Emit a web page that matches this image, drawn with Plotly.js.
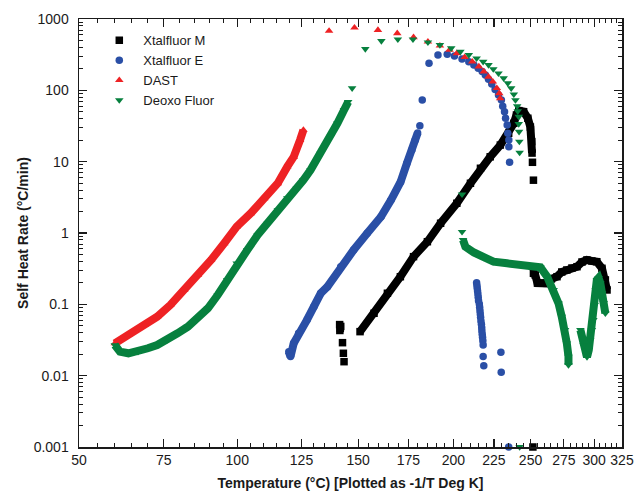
<!DOCTYPE html>
<html>
<head>
<meta charset="utf-8">
<script src="https://cdn.plot.ly/plotly-3.0.1.min.js"></script>
<style>
  html, body { margin: 0; padding: 0; background: #fff; }
  #chart { width: 635px; height: 494px; }
</style>
</head>
<body>
<div id="chart"></div>
<script>
// Temperatures in deg C, self heat rates in deg C/min.

// Xtalfluor M
const xtalMRampT = [150.9, 157.6, 164.2, 170.8, 177.7, 185.2, 192.6, 202.0, 210.2, 216.4, 222.6, 229.2, 234.8, 238.3, 240.1, 241.7, 245.1, 248.1, 249.9, 250.9, 251.1];
const xtalMRampR = [0.0414, 0.0749, 0.143, 0.244, 0.466, 0.755, 1.37, 2.61, 4.98, 8.08, 11.7, 17.1, 25.0, 34.5, 45.1, 51.9, 50.2, 40.6, 30.6, 19.1, 13.2];
const xtalMTailT = [252.1, 253.4, 255.0, 257.2, 262.2, 265.4, 269.7, 273.4, 277.4, 281.5, 285.6, 289.7, 293.8, 298.0, 302.3, 306.8, 309.8, 311.3];
const xtalMTailR = [0.272, 0.258, 0.199, 0.199, 0.197, 0.227, 0.244, 0.284, 0.303, 0.323, 0.337, 0.392, 0.419, 0.405, 0.396, 0.320, 0.220, 0.159];
const xtalMLoneT = [141.5, 141.8, 142.0, 141.6, 142.8, 143.2, 143.5, 251.4, 252.1, 251.7];
const xtalMLoneR = [0.052, 0.046, 0.049, 0.043, 0.029, 0.0206, 0.0157, 9.8, 5.5, 0.001];

// Xtalfluor E
const xtalERampT = [119.8, 120.5, 121.8, 123.8, 127.3, 130.2, 133.2, 136.1, 142.0, 147.9, 154.3, 161.0, 166.0, 170.9, 174.2, 176.8, 178.6, 179.9];
const xtalERampR = [0.0217, 0.0185, 0.0284, 0.0393, 0.0604, 0.0927, 0.143, 0.177, 0.337, 0.578, 0.991, 1.69, 2.90, 5.19, 9.5, 14.6, 20.1, 25.2];
const xtalEPeakT = [181.1, 182.4, 186.1, 191.1, 196.4, 200.6, 205.1, 209.2, 212.3, 215.0, 217.5, 219.5, 221.5, 223.6, 225.8, 228.0, 229.9, 230.8, 232.0, 232.7, 233.8, 234.2, 234.9, 234.9, 235.4];
const xtalEPeakR = [32.0, 73, 240, 313, 320, 303, 275, 252, 227, 204, 183, 164, 143, 123, 103, 86, 73, 60, 50, 40.6, 32.7, 25.0, 20.1, 16.2, 9.8];
const xtalEDropT = [214.0, 214.2, 214.4, 214.6, 214.8, 215.0, 215.2, 215.7, 215.9, 216.1, 216.3, 216.5, 216.7, 217.0, 217.2, 217.3, 217.5, 217.7, 217.9, 218.1, 218.1, 218.5];
const xtalEDropR = [0.201, 0.183, 0.168, 0.154, 0.140, 0.126, 0.1125, 0.101, 0.0910, 0.0815, 0.0732, 0.0658, 0.0584, 0.0525, 0.0471, 0.0423, 0.0380, 0.0345, 0.0309, 0.0269, 0.0185, 0.0138];
const xtalELoneT = [229.6, 229.8, 234.8];
const xtalELoneR = [0.0213, 0.0112, 0.001];

// DAST
const dastRampT = [60.1, 64.1, 69.0, 72.9, 77.1, 81.6, 86.2, 90.7, 95.3, 99.8, 105.0, 110.1, 115.4, 119.2, 121.8, 124.4, 125.8];
const dastRampR = [0.0284, 0.0372, 0.0513, 0.0671, 0.098, 0.159, 0.258, 0.419, 0.718, 1.23, 1.89, 3.07, 4.98, 8.5, 11.7, 20.1, 27.8];
const dastPeakT = [136.8, 148.3, 159.5, 169.2, 177.7, 185.5, 192.2, 197.7, 202.0, 206.7, 211.3, 215.4, 218.5, 221.5, 224.3, 226.9, 228.5, 229.1];
const dastPeakR = [679, 756, 701, 631, 554, 481, 423, 368, 331, 291, 252, 215, 183, 155, 132, 107, 91, 77];

// Deoxo Fluor
const deoxoRampT = [60.1, 61.6, 64.1, 67.0, 70.0, 72.9, 76.0, 79.4, 82.8, 86.2, 89.6, 93.0, 96.4, 99.8, 103.7, 107.6, 111.5, 115.4, 119.2, 123.1, 125.8, 128.8, 133.2, 137.6, 140.5, 143.5, 145.4];
const deoxoRampR = [0.0269, 0.0217, 0.0206, 0.0217, 0.0242, 0.0269, 0.0316, 0.0393, 0.0486, 0.0637, 0.0881, 0.135, 0.220, 0.376, 0.578, 0.938, 1.37, 2.10, 3.07, 4.24, 5.54, 7.65, 13.1, 22.4, 34.5, 53, 69];
const deoxoPeakT = [147.2, 153.4, 161.2, 169.5, 177.4, 185.5, 192.2, 198.7, 204.1, 209.2, 214.0, 218.1, 221.5, 224.6, 228.0, 231.4, 234.2, 236.5, 238.3, 239.4, 240.6, 241.0, 241.7, 241.7, 241.9, 242.1, 242.3];
const deoxoPeakR = [107, 380, 492, 520, 520, 472, 432, 389, 348, 313, 281, 252, 227, 199, 173, 148, 126, 107, 88, 73, 60, 51, 42.7, 33.8, 26.3, 19.1, 13.4];
const deoxoTailT = [205.1, 205.7, 207.1, 212.3, 218.5, 224.7, 233.7, 242.8, 249.4, 257.2, 262.2, 267.1, 270.9, 273.4, 276.0, 277.4, 278.7, 278.7];
const deoxoTailR = [1.04, 0.798, 0.643, 0.533, 0.454, 0.396, 0.376, 0.362, 0.337, 0.330, 0.244, 0.159, 0.103, 0.0671, 0.0437, 0.0284, 0.0185, 0.0141];
const deoxoEndT = [288.4, 291.1, 293.9, 295.4, 296.6, 298.0, 299.3, 300.4, 301.3, 302.3, 303.8, 305.3, 306.8, 308.3, 309.8];
const deoxoEndR = [0.0437, 0.0269, 0.0183, 0.0229, 0.0316, 0.0437, 0.0604, 0.098, 0.159, 0.220, 0.234, 0.199, 0.144, 0.1045, 0.0749];
const deoxoLoneT = [205.1, 242.3];
const deoxoLoneR = [3.49, 0.001];

// Axis ticks
const xTickLabels = [50, 75, 100, 125, 150, 175, 200, 225, 250, 275, 300, 325];
const yTickVals = [0.001, 0.01, 0.1, 1, 10, 100, 1000];
const yTickText = ['0.001', '0.01', '0.1', '1', '10', '100', '1000'];

// The abscissa is -1/T with T in kelvin
const toX = t => -1 / (t + 273.15);

const xMinor = [];
for (let t = 50; t <= 325; t += 5) if (t % 25 !== 0) xMinor.push(toX(t));
const yMinor = [];
for (let d = -3; d < 3; d++) for (let m = 2; m <= 9; m++) yMinor.push(m * Math.pow(10, d));

const FONT = 'Liberation Sans, Arial, Helvetica, sans-serif';
const INK = '#1a1a1a';

function joinSegments(segs) {
  const xs = [], ys = [];
  segs.forEach((s, i) => {
    if (i > 0) { xs.push(null); ys.push(null); }
    s[0].forEach((t, j) => { xs.push(toX(t)); ys.push(s[1][j]); });
  });
  return { xs, ys };
}

// Dense runs of readings are drawn as a thick band under the markers
function band(segs, color) {
  const j = joinSegments(segs);
  return {
    x: j.xs, y: j.ys, type: 'scatter', mode: 'lines',
    line: { color: color, width: 8 }, connectgaps: false,
    showlegend: false, hoverinfo: 'skip', cliponaxis: false
  };
}

function dots(name, segs, color, symbol) {
  const xs = [], ys = [];
  segs.forEach(s => s[0].forEach((t, j) => { xs.push(toX(t)); ys.push(s[1][j]); }));
  return {
    x: xs, y: ys, name: name, type: 'scatter', mode: 'markers',
    marker: { color: color, size: 7.5, symbol: symbol, line: { width: 0 } },
    cliponaxis: false
  };
}

const BLACK = '#000000', BLUE = '#2a4fa6', RED = '#ee2224', GREEN = '#07803e';

const traces = [
  band([[xtalMRampT, xtalMRampR], [xtalMTailT, xtalMTailR]], BLACK),
  dots('Xtalfluor M', [[xtalMRampT, xtalMRampR], [xtalMTailT, xtalMTailR], [xtalMLoneT, xtalMLoneR]], BLACK, 'square'),
  band([[xtalERampT, xtalERampR]], BLUE),
  dots('Xtalfluor E', [[xtalERampT, xtalERampR], [xtalEPeakT, xtalEPeakR], [xtalEDropT, xtalEDropR], [xtalELoneT, xtalELoneR]], BLUE, 'circle'),
  band([[dastRampT, dastRampR]], RED),
  dots('DAST', [[dastRampT, dastRampR], [dastPeakT, dastPeakR]], RED, 'triangle-up'),
  band([[deoxoRampT, deoxoRampR], [deoxoTailT.slice(1), deoxoTailR.slice(1)], [deoxoEndT, deoxoEndR]], GREEN),
  dots('Deoxo Fluor', [[deoxoRampT, deoxoRampR], [deoxoPeakT, deoxoPeakR], [deoxoTailT, deoxoTailR], [deoxoEndT, deoxoEndR], [deoxoLoneT, deoxoLoneR]], GREEN, 'triangle-down')
];

const axisCommon = {
  showline: true, linecolor: INK, linewidth: 1.5, mirror: 'ticks',
  ticks: 'inside', ticklen: 8, tickwidth: 1.2, tickcolor: INK,
  showgrid: false, zeroline: false,
  tickfont: { family: FONT, size: 14, color: INK }
};

const layout = {
  width: 635, height: 494,
  margin: { l: 79, r: 13, t: 19, b: 47 },
  paper_bgcolor: '#ffffff', plot_bgcolor: '#ffffff',
  showlegend: true,
  legend: {
    x: 0.03, y: 0.985, xanchor: 'left', yanchor: 'top',
    bgcolor: 'rgba(0,0,0,0)', borderwidth: 0,
    font: { family: FONT, size: 13, color: INK },
    itemwidth: 38
  },
  xaxis: Object.assign({}, axisCommon, {
    range: [toX(50), toX(325)],
    tickmode: 'array',
    tickvals: xTickLabels.map(toX),
    ticktext: xTickLabels.map(String),
    minor: { tickmode: 'array', tickvals: xMinor, ticks: 'inside', ticklen: 4, tickwidth: 1, tickcolor: INK, showgrid: false },
    title: { text: '<b>Temperature (°C) [Plotted as -1/T Deg K]</b>', font: { family: FONT, size: 14, color: INK }, standoff: 11 }
  }),
  yaxis: Object.assign({}, axisCommon, {
    type: 'log',
    range: [-3, 3],
    tickmode: 'array',
    tickvals: yTickVals,
    ticktext: yTickText,
    ticklabelstandoff: 6,
    minor: { tickmode: 'array', tickvals: yMinor, ticks: 'inside', ticklen: 4, tickwidth: 1, tickcolor: INK, showgrid: false },
    title: { text: '<b>Self Heat Rate (°C/min)</b>', font: { family: FONT, size: 14, color: INK }, standoff: 2 }
  })
};

Plotly.newPlot('chart', traces, layout, { displayModeBar: false, staticPlot: true });
</script>
</body>
</html>
